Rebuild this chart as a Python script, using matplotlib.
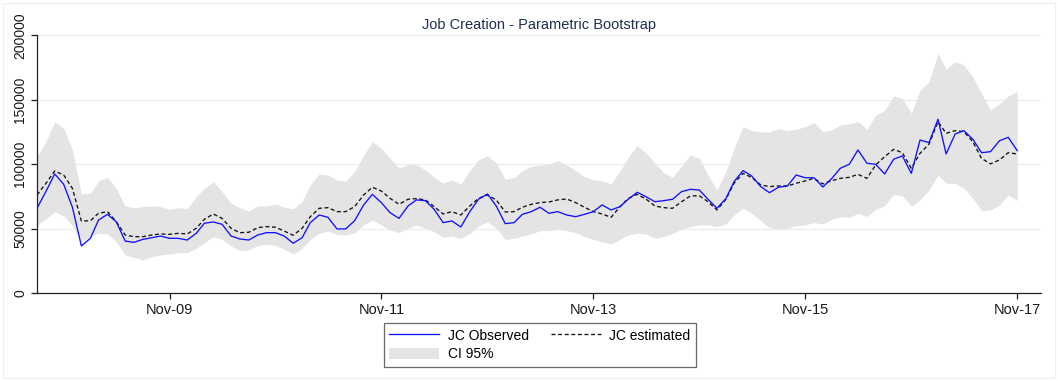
import numpy as np  # operaciones numéricas
import pandas as pd  # fechas mensuales
import matplotlib
matplotlib.use("Agg")
import matplotlib.pyplot as plt  # gráficos
import matplotlib.dates as mdates
from matplotlib.patches import Patch, Rectangle
from matplotlib.lines import Line2D


# -------------------------------------------------
# 1. Datos: creación de empleo mensual (ago-2008 a nov-2017)
# -------------------------------------------------
fecha_inicio = "2008-08-01"
n_meses = 112

jc_observado = [
    65900, 79000, 92500, 84500, 66700, 36700, 42600, 56800, 61200, 55500,
    40500, 39500, 41800, 43100, 44400, 42600, 42600, 41300, 46500, 54300,
    55300, 53500, 44400, 42100, 41300, 45200, 47000, 47000, 44400, 38800,
    43100, 54800, 60700, 58900, 49900, 49900, 56300, 68500, 76700, 70300,
    62500, 58100, 67700, 72400, 71800, 65100, 54800, 56100, 51400, 63300,
    72900, 77000, 67700, 54000, 54800, 61200, 63300, 66700, 62000, 63300,
    60700, 59400, 61200, 63300, 68500, 64600, 67200, 72900, 78300, 74900,
    71000, 71800, 72900, 78800, 80600, 80100, 72900, 65900, 73600, 86600,
    95100, 90900, 82700, 78000, 82200, 83200, 91700, 89600, 89600, 82400,
    89100, 96900, 100000, 111100, 100800, 100000, 92500, 103900, 106500, 93000,
    118800, 116800, 134900, 108000, 123500, 126100, 119400, 109000, 109800, 118300,
    120900, 110600,
]

jc_estimado = [
    76200, 85300, 94800, 91700, 81400, 56000, 56300, 62000, 63300, 55600,
    45200, 43900, 43900, 45200, 46000, 45700, 46500, 46000, 50400, 57400,
    61500, 58100, 50400, 47000, 47300, 50900, 51700, 51200, 48300, 45000,
    50400, 59400, 65900, 66400, 63300, 63300, 67200, 76200, 82200, 79300,
    73600, 69000, 72900, 73400, 72400, 67200, 61500, 63300, 60700, 67700,
    73600, 76200, 72400, 63000, 63300, 66700, 69000, 70300, 70800, 72400,
    73100, 70300, 66700, 63300, 61500, 58900, 67200, 73600, 76700, 73100,
    67700, 66400, 65900, 71000, 75400, 75700, 71000, 64600, 72900, 85300,
    93000, 89700, 84000, 82700, 83200, 83200, 85300, 87100, 89100, 84800,
    87300, 89100, 89900, 92200, 89100, 99500, 105900, 111600, 109000, 96900,
    108500, 115700, 133000, 124000, 126100, 125300, 117500, 104600, 100300, 103400,
    109000, 108000,
]

ic_superior = [
    106000, 117600, 133000, 128000, 111100, 77000, 77500, 87000, 90000, 81400,
    67700, 66400, 67200, 67700, 67200, 65100, 66400, 65600, 74900, 81400,
    86600, 78800, 69800, 66400, 63800, 67700, 67700, 69200, 66700, 65600,
    71000, 84000, 92500, 91700, 87900, 87000, 94300, 107200, 117600, 112400,
    104700, 96900, 100000, 99500, 95600, 89900, 85300, 87900, 84800, 95100,
    103400, 106500, 101300, 88400, 89700, 95100, 98500, 99200, 100000, 102800,
    99500, 95100, 90400, 87900, 87300, 84800, 95100, 105400, 114500, 109000,
    101000, 93500, 89900, 98700, 107200, 104700, 91700, 80100, 94300, 112400,
    129200, 126100, 125100, 125100, 127500, 126100, 127100, 129200, 132300, 125300,
    126600, 130500, 131300, 133100, 127100, 138200, 141600, 152900, 151100, 139500,
    157600, 164000, 186000, 173600, 179500, 177000, 167900, 155000, 142100, 147300,
    153000, 156300,
]

ic_inferior = [
    53000, 57600, 63300, 60000, 52200, 40000, 43900, 46500, 46000, 40000,
    29700, 27900, 25800, 28400, 29700, 30500, 31500, 31500, 34900, 39300,
    43900, 41800, 36700, 33100, 33600, 37000, 38000, 37000, 34100, 30500,
    34900, 41800, 46500, 48300, 45700, 45200, 47000, 53000, 56800, 53000,
    49100, 47000, 50400, 53000, 50400, 47800, 43400, 44400, 42600, 46500,
    52200, 55500, 50400, 41800, 42600, 44400, 46000, 48600, 48600, 49600,
    48600, 47000, 43900, 41800, 40000, 38200, 41800, 45200, 46500, 46000,
    42600, 43900, 46500, 49600, 51700, 53000, 53000, 51700, 53800, 60700,
    65900, 62000, 56300, 51000, 49600, 50400, 52500, 53000, 54800, 53800,
    57400, 59400, 58900, 62000, 59400, 65100, 67900, 76700, 75400, 67700,
    72400, 80100, 91700, 85300, 85300, 81400, 73600, 64000, 64600, 68500,
    76200, 71800,
]

ticks_y = [0, 50000, 100000, 150000, 200000]
ticks_x = ["2009-11-01", "2011-11-01", "2013-11-01", "2015-11-01", "2017-11-01"]

fechas = pd.date_range(fecha_inicio, periods=n_meses, freq="MS")

# -------------------------------------------------
# 2. Figura y ejes
# -------------------------------------------------
plt.rcParams["font.family"] = ["Liberation Sans", "DejaVu Sans"]

fig = plt.figure(figsize=(10.58, 3.81), dpi=100)
ax = fig.add_axes([37 / 1058, 1 - 293.3 / 381, (1041 - 37) / 1058, (293.3 - 35.3) / 381])

# Borde suave alrededor del gráfico
fig.patches.append(Rectangle((3 / 1058, 3 / 381), 1 - 6 / 1058, 1 - 6 / 381,
                             transform=fig.transFigure, fill=False,
                             edgecolor="#edf1f5", linewidth=0.8))

# Banda del intervalo de confianza
ax.fill_between(fechas, ic_inferior, ic_superior, color="#e4e4e4", linewidth=0, zorder=2)

# Series observada y estimada
ax.plot(fechas, jc_observado, color="#1010ff", linewidth=0.95, zorder=4)
ax.plot(fechas, jc_estimado, color="#111111", linewidth=0.95,
        linestyle=(0, (3, 2)), zorder=3)

# Rejilla horizontal
for v in ticks_y[1:]:
    ax.axhline(v, color="#e6edf3", linewidth=0.9, zorder=1)

# Límites y ejes
ax.set_ylim(0, 200000)
ax.set_xlim(pd.Timestamp(fecha_inicio), pd.Timestamp("2018-01-22"))

ax.set_yticks(ticks_y)
ax.set_yticklabels([str(v) for v in ticks_y], rotation=90, va="center",
                   fontsize=10, color="#1a1a1a")
ax.set_xticks([pd.Timestamp(t) for t in ticks_x])
ax.xaxis.set_major_formatter(mdates.DateFormatter("%b-%y"))
ax.tick_params(axis="x", labelsize=10.5, colors="#1a1a1a", length=4, width=0.9, pad=3)
ax.tick_params(axis="y", length=4, width=0.9, pad=3, colors="#1a1a1a")

for lado in ["top", "right"]:
    ax.spines[lado].set_visible(False)
for lado in ["left", "bottom"]:
    ax.spines[lado].set_color("#222222")
    ax.spines[lado].set_linewidth(0.9)

# Título
fig.text(539 / 1058, 1 - 25 / 381, "Job Creation - Parametric Bootstrap",
         ha="center", va="center", fontsize=10.5, color="#1f2d4f")

# -------------------------------------------------
# 3. Leyenda
# -------------------------------------------------
manejadores = [
    Line2D([], [], color="#1010ff", linewidth=0.95),
    Patch(facecolor="#e4e4e4", edgecolor="none"),
    Line2D([], [], color="#111111", linewidth=0.95, linestyle=(0, (3, 2))),
]
etiquetas = ["JC Observed", "CI 95%", "JC estimated"]

leyenda = fig.legend(manejadores, etiquetas, ncol=2, loc="upper center",
                     bbox_to_anchor=(540 / 1058, 1 - 323 / 381),
                     fontsize=10, frameon=True, fancybox=False,
                     handlelength=3.6, handleheight=0.9, handletextpad=0.6,
                     columnspacing=1.6, labelspacing=0.35,
                     borderpad=0.4, borderaxespad=0)
leyenda.get_frame().set_edgecolor("#444444")
leyenda.get_frame().set_linewidth(0.9)

fig.savefig("out.png", dpi=100)
